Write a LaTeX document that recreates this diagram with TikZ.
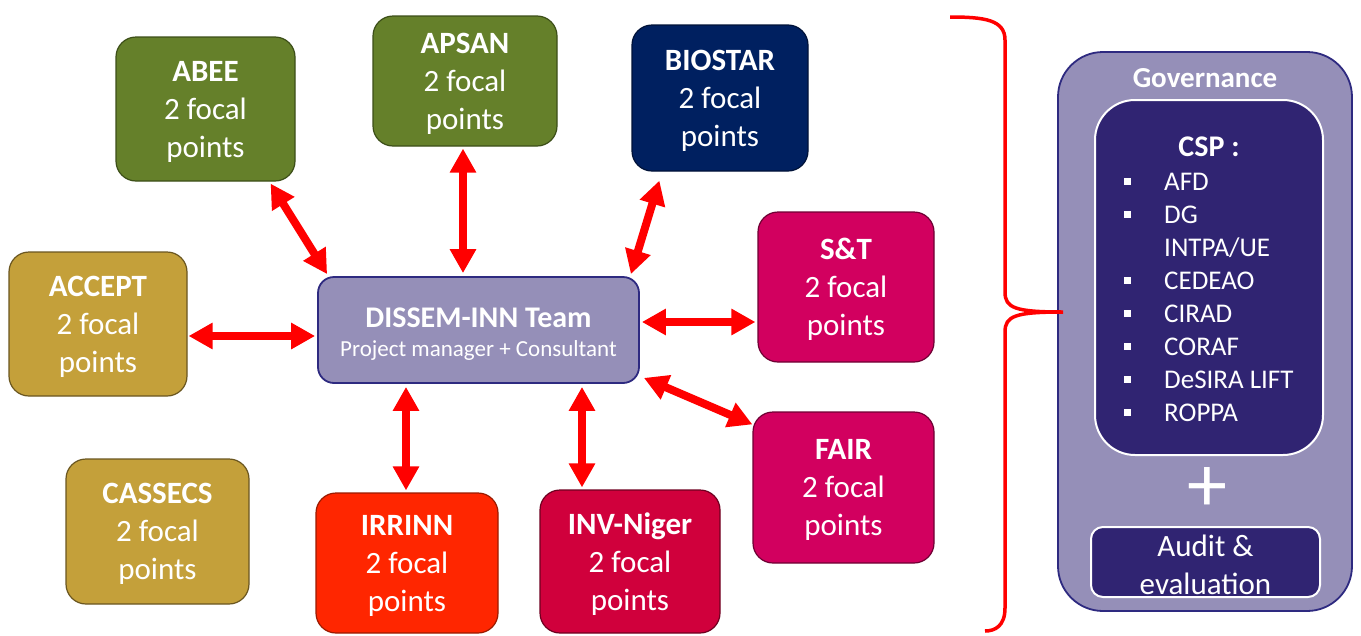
\documentclass[tikz,border=0pt]{standalone}
\usepackage{fontspec}
\setmainfont{Carlito}
\usepackage{tikz}
\usetikzlibrary{arrows.meta, calc}

\definecolor{leafgreen}{HTML}{65802A}
\definecolor{leafedge}{HTML}{3C4E18}
\definecolor{navyblue}{HTML}{002060}
\definecolor{navyedge}{HTML}{001238}
\definecolor{berry}{HTML}{D2005F}
\definecolor{berryedge}{HTML}{6E0033}
\definecolor{crimson}{HTML}{D0003C}
\definecolor{crimsonedge}{HTML}{6E0020}
\definecolor{flame}{HTML}{FF2600}
\definecolor{flameedge}{HTML}{9A1A00}
\definecolor{ochre}{HTML}{C4A03A}
\definecolor{ochreedge}{HTML}{6A5620}
\definecolor{lavender}{HTML}{958FB8}
\definecolor{teamedge}{HTML}{2E2A80}
\definecolor{deeppurple}{HTML}{302472}

\newcommand{\sqbullet}{\makebox[40pt][l]{\raisebox{6pt}{\rule{7pt}{7pt}}}}

\begin{document}
\begin{tikzpicture}[
  x=1pt, y=-1pt,
  group/.style={draw, line width=1.2pt, rounded corners=20pt, text=white, align=center, inner sep=0pt, text depth=0pt, font=\fontsize{31}{38}\selectfont},
  team/.style={draw=teamedge, fill=lavender, line width=1.8pt, rounded corners=16pt, text=white, align=center, inner sep=0pt},
  cspbox/.style={draw=white, line width=2pt, fill=deeppurple, text=white, inner sep=0pt},
  link/.style={{Triangle[length=24pt,width=25pt]}-{Triangle[length=24pt,width=25pt]}, line width=8pt, red},
  bracket/.style={draw=red, line width=3.5pt}
]
  \useasboundingbox (0,0) rectangle (1361,635);

  % partner projects
  \node[group, fill=leafgreen, draw=leafedge, minimum width=179pt, minimum height=144pt] (abee) at (205.5,109) {\textbf{ABEE}\\2 focal\\points};
  \node[group, fill=leafgreen, draw=leafedge, minimum width=184pt, minimum height=130pt] (apsan) at (465,81) {\textbf{APSAN}\\2 focal\\points};
  \node[group, fill=navyblue, draw=navyedge, minimum width=176pt, minimum height=146pt] (biostar) at (720,98) {\textbf{BIOSTAR}\\2 focal\\points};
  \node[group, fill=berry, draw=berryedge, minimum width=176pt, minimum height=150pt] (st) at (846,287) {\textbf{S\&T}\\2 focal\\points};
  \node[group, fill=ochre, draw=ochreedge, minimum width=178pt, minimum height=144pt] (accept) at (98,324) {\textbf{ACCEPT}\\2 focal\\points};
  \node[group, fill=berry, draw=berryedge, minimum width=181pt, minimum height=151pt] (fair) at (843.5,487.5) {\textbf{FAIR}\\2 focal\\points};
  \node[group, fill=ochre, draw=ochreedge, minimum width=183pt, minimum height=145pt] (cassecs) at (157.5,531.5) {\textbf{CASSECS}\\2 focal\\points};
  \node[group, fill=flame, draw=flameedge, minimum width=182pt, minimum height=140pt] (irrinn) at (407,563) {\textbf{IRRINN}\\2 focal\\points};
  \node[group, fill=crimson, draw=crimsonedge, minimum width=180pt, minimum height=143pt] (invniger) at (630,561.5) {\textbf{INV-Niger}\\2 focal\\points};

  % central team
  \node[team, minimum width=321pt, minimum height=106pt] (dissem) at (478.5,330) {};
  \node[text=white, font=\fontsize{30}{36}\selectfont\bfseries] (teamname) at (478.5,318) {DISSEM-INN Team};
  \node[text=white, font=\fontsize{23}{28}\selectfont] (teamrole) at (478.5,350) {Project manager + Consultant};

  % links
  \draw[link] ($(abee.south east)+(-25,2)$) -- ($(dissem.north west)+(10,-2)$);
  \draw[link] ($(apsan.south)+(-2,2)$) -- ($(apsan.south |- dissem.north)+(-2,-3)$);
  \draw[link] ($(biostar.south west)+(28,9)$) -- ($(dissem.north east)+(-9,-2)$);
  \draw[link] ($(accept.east |- dissem.west)+(1,6)$) -- ($(dissem.west)+(-2,6)$);
  \draw[link] ($(dissem.east)+(2,-8)$) -- ($(dissem.east -| st.west)+(-2,-8)$);
  \draw[link] ($(dissem.south east)+(4,-6)$) -- ($(fair.north west)+(0,13)$);
  \draw[link] ($(irrinn.north |- dissem.south)+(-1,3)$) -- ($(irrinn.north)+(-1,-2)$);
  \draw[link] ($(invniger.north |- dissem.south)+(-48,3)$) -- ($(invniger.north)+(-48,-2)$);

  % governance
  \node[draw=teamedge, fill=lavender, line width=1.8pt, rounded corners=45pt, minimum width=294pt, minimum height=559pt, inner sep=0pt] (gov) at (1205,331.5) {};
  \node[text=white, font=\fontsize{29}{34}\selectfont\bfseries] (govtitle) at (1205,78) {Governance};
  \node[cspbox, rounded corners=40pt, minimum width=228pt, minimum height=355pt] (csp) at (1209,277.5) {};
  \node[text=white, font=\fontsize{30}{36}\selectfont\bfseries] (csptitle) at (1209,147) {CSP :};
  \node[text=white, anchor=north west, align=left, inner sep=0pt, font=\fontsize{27}{33}\selectfont] (csplist) at (1124,173)
    {\sqbullet AFD\\ \sqbullet DG\\ \hspace*{40pt}INTPA/UE\\ \sqbullet CEDEAO\\ \sqbullet CIRAD\\ \sqbullet CORAF\\ \sqbullet DeSIRA LIFT\\ \sqbullet ROPPA};
  \node[text=white, font=\fontsize{80}{80}\selectfont] (plus) at (1207,490) {+};
  \node[cspbox, rounded corners=12pt, minimum width=229pt, minimum height=70pt] (audit) at (1205.5,562) {};
  \node[text=white, align=center, inner sep=0pt, font=\fontsize{31}{38}\selectfont] (audittext) at (1205.5,565) {Audit \&\\evaluation};

  % brace
  \draw[bracket] (950,17) .. controls (985,17) and (1005,20) .. (1005,40) -- (1005,292)
    .. controls (1005,308) and (1015,312) .. (1063,312)
    .. controls (1015,312) and (1005,316) .. (1005,332) -- (1005,608)
    .. controls (1005,626) and (995,631) .. (985,631);
\end{tikzpicture}
\end{document}
